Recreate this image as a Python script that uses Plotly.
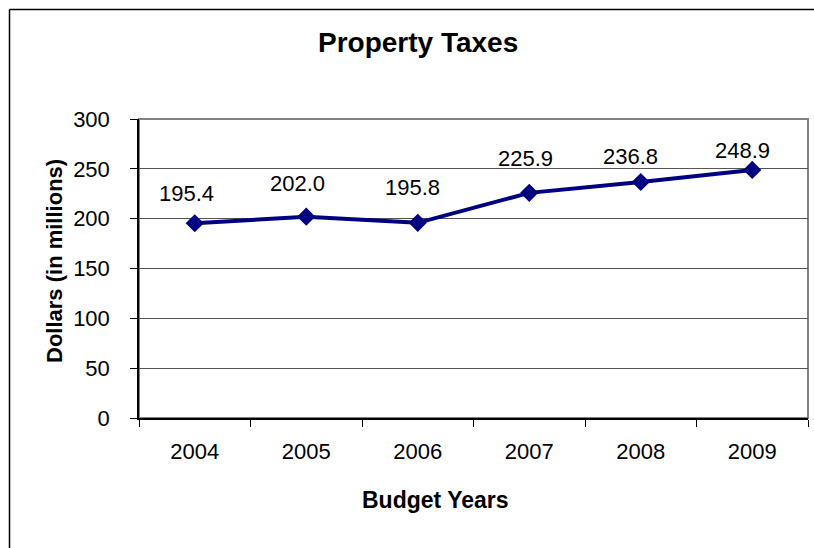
import plotly.graph_objects as go

# Property tax revenue by budget year (millions of dollars)
years = ["2004", "2005", "2006", "2007", "2008", "2009"]
taxes = [195.4, 202.0, 195.8, 225.9, 236.8, 248.9]
y_ticks = [0, 50, 100, 150, 200, 250, 300]

FONT = "Liberation Sans, Arial, sans-serif"
W, H = 814, 548
L, R, T, B = 139, 6, 119, 130
PW, PH = W - L - R, H - T - B


def px_x(x):
    return (x - L) / PW


def px_y(y):
    return (H - B - y) / PH


fig = go.Figure()
fig.add_trace(go.Scatter(
    x=years, y=taxes, mode="lines+markers",
    line=dict(color="#000080", width=4),
    marker=dict(symbol="diamond", size=14, color="#000080"),
    hoverinfo="skip", showlegend=False, cliponaxis=False,
))

# value labels above each point (x given as category index)
xshift = [-8, -9, -5, -4, -10, -10]
yshift = [30, 33, 35, 34, 25, 19]
annotations = []
for i, v in enumerate(taxes):
    annotations.append(dict(
        x=i, y=v, xref="x", yref="y", text=f"{v:.1f}", showarrow=False,
        xshift=xshift[i], yshift=yshift[i],
        font=dict(family=FONT, size=22, color="#000000"),
    ))

annotations += [
    dict(text="<b>Property Taxes</b>", x=px_x(418), y=px_y(43), xref="paper", yref="paper",
         showarrow=False, font=dict(family=FONT, size=28, color="#000000"),
         xanchor="center", yanchor="middle"),
    dict(text="<b>Dollars (in millions)</b>", x=px_x(54), y=px_y(261), xref="paper", yref="paper",
         showarrow=False, textangle=-90, font=dict(family=FONT, size=22, color="#000000"),
         xanchor="center", yanchor="middle"),
    dict(text="<b>Budget Years</b>", x=px_x(435), y=px_y(500), xref="paper", yref="paper",
         showarrow=False, font=dict(family=FONT, size=23, color="#000000"),
         xanchor="center", yanchor="middle"),
]

shapes = [
    # chart frame (top and left edges; the rest runs off the page)
    dict(type="line", xref="paper", yref="paper",
         x0=px_x(9.5), x1=px_x(W), y0=px_y(9.5), y1=px_y(9.5),
         line=dict(color="#000000", width=1.5), layer="below"),
    dict(type="line", xref="paper", yref="paper",
         x0=px_x(9.5), x1=px_x(9.5), y0=px_y(9.5), y1=px_y(H),
         line=dict(color="#000000", width=1.5), layer="below"),
    # plot-area frame
    dict(type="rect", xref="paper", yref="paper", x0=0, x1=1, y0=0, y1=1,
         line=dict(color="#808080", width=2), layer="below"),
]

fig.update_layout(
    width=W, height=H,
    margin=dict(l=L, r=R, t=T, b=B, pad=0),
    paper_bgcolor="white", plot_bgcolor="white",
    font=dict(family=FONT, size=22, color="#000000"),
    annotations=annotations, shapes=shapes,
    hovermode=False,
)
fig.update_xaxes(
    type="category", range=[-0.5, 5.5],
    showline=True, linecolor="#000000", linewidth=1.5,
    ticks="outside", tickson="boundaries", ticklen=7, tickcolor="#000000", tickwidth=1,
    showgrid=False, ticklabelstandoff=13,
    tickfont=dict(family=FONT, size=22, color="#000000"),
)
fig.update_yaxes(
    range=[0, 300], tickvals=y_ticks,
    showline=True, linecolor="#000000", linewidth=1.5,
    ticks="outside", ticklen=7, tickcolor="#000000", tickwidth=1,
    showgrid=True, gridcolor="#555555", gridwidth=1, zeroline=False,
    ticklabelstandoff=16,
    tickfont=dict(family=FONT, size=22, color="#000000"),
)

fig.write_html("out.html")
